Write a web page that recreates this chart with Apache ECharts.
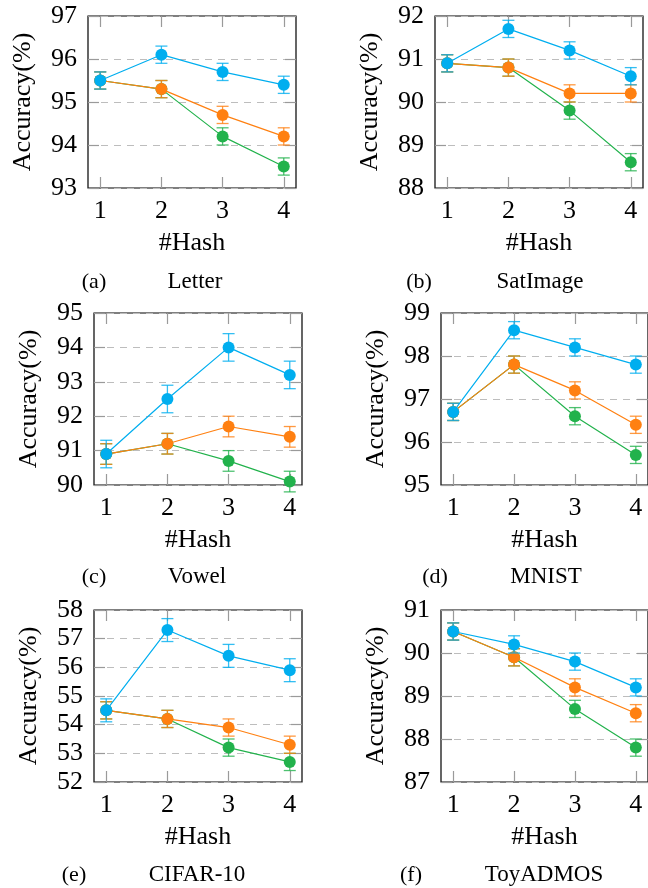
<!DOCTYPE html>
<html>
<head>
<meta charset="utf-8">
<script src="https://cdn.jsdelivr.net/npm/echarts@6/dist/echarts.min.js"></script>
<style>
  html, body { margin: 0; padding: 0; background: #fff; }
  #chart { width: 648px; height: 888px; }
</style>
</head>
<body>
<div id="chart"></div>
<script>
// 数据
const hashCounts = [1, 2, 3, 4];
const panelNames = ["Letter", "SatImage", "Vowel", "MNIST", "CIFAR-10", "ToyADMOS"];
const panelTags = ["(a)", "(b)", "(c)", "(d)", "(e)", "(f)"];
const yMins = [93, 88, 90, 95, 52, 87];
const yMaxs = [97, 92, 95, 99, 58, 91];

const blueAcc = [
    [95.5, 96.1, 95.7, 95.4],
    [90.9, 91.7, 91.2, 90.6],
    [90.9, 92.5, 94.0, 93.2],
    [96.7, 98.6, 98.2, 97.8],
    [54.5, 57.3, 56.4, 55.9],
    [90.5, 90.2, 89.8, 89.2]
];
const orangeAcc = [
    [95.5, 95.3, 94.7, 94.2],
    [90.9, 90.8, 90.2, 90.2],
    [90.9, 91.2, 91.7, 91.4],
    [96.7, 97.8, 97.2, 96.4],
    [54.5, 54.2, 53.9, 53.3],
    [90.5, 89.9, 89.2, 88.6]
];
const greenAcc = [
    [95.5, 95.3, 94.2, 93.5],
    [90.9, 90.8, 89.8, 88.6],
    [90.9, 91.2, 90.7, 90.1],
    [96.7, 97.8, 96.6, 95.7],
    [54.5, 54.2, 53.2, 52.7],
    [90.5, 89.9, 88.7, 87.8]
];
const blueErr = [
    [0.2, 0.2, 0.2, 0.2],
    [0.2, 0.2, 0.2, 0.2],
    [0.4, 0.4, 0.4, 0.4],
    [0.2, 0.2, 0.2, 0.2],
    [0.4, 0.4, 0.4, 0.4],
    [0.2, 0.2, 0.2, 0.2]
];
const orangeErr = [
    [0.2, 0.2, 0.2, 0.2],
    [0.2, 0.2, 0.2, 0.2],
    [0.3, 0.3, 0.3, 0.3],
    [0.2, 0.2, 0.2, 0.2],
    [0.3, 0.3, 0.3, 0.3],
    [0.2, 0.2, 0.2, 0.2]
];
const greenErr = [
    [0.2, 0.2, 0.2, 0.2],
    [0.2, 0.2, 0.2, 0.2],
    [0.3, 0.3, 0.3, 0.3],
    [0.2, 0.2, 0.2, 0.2],
    [0.3, 0.3, 0.3, 0.3],
    [0.2, 0.2, 0.2, 0.2]
];

// 布局
const gridPos = [
    { left: 88, top: 16 },
    { left: 435, top: 16 },
    { left: 94, top: 313 },
    { left: 441, top: 313 },
    { left: 94, top: 610 },
    { left: 441, top: 610 }
];
const plotW = 208, plotH = 172;
const captionPos = [
    { tagX: 94, nameX: 195, y: 282 },
    { tagX: 419, nameX: 540, y: 282 },
    { tagX: 94, nameX: 197, y: 577 },
    { tagX: 435, nameX: 546, y: 577 },
    { tagX: 74, nameX: 197, y: 875 },
    { tagX: 411, nameX: 544, y: 875 }
];

const SERIF = "Liberation Serif";
const BLUE = "#00AEEF", ORANGE = "#FF8011", GREEN = "#22B24C";
const TICK = "#9a9a9a";

const grids = [], xAxes = [], yAxes = [], series = [], graphics = [];

// 误差棒
function errorBars(gi, values, errs, color, z) {
    return {
        type: "custom",
        xAxisIndex: gi * 2,
        yAxisIndex: gi * 2,
        z: z,
        silent: true,
        data: values.map((v, i) => [hashCounts[i], v - errs[i], v + errs[i]]),
        encode: { x: 0, y: [1, 2] },
        renderItem: (params, api) => {
            const x = api.value(0);
            const lo = api.coord([x, api.value(1)]);
            const hi = api.coord([x, api.value(2)]);
            const hw = 6;
            const style = { stroke: color, lineWidth: 1.3, opacity: 0.8 };
            return {
                type: "group",
                children: [
                    { type: "line", shape: { x1: lo[0], y1: lo[1], x2: hi[0], y2: hi[1] }, style },
                    { type: "line", shape: { x1: lo[0] - hw, y1: lo[1], x2: lo[0] + hw, y2: lo[1] }, style },
                    { type: "line", shape: { x1: hi[0] - hw, y1: hi[1], x2: hi[0] + hw, y2: hi[1] }, style }
                ]
            };
        }
    };
}

function lineSeries(gi, values, color, z) {
    return {
        type: "line",
        xAxisIndex: gi * 2,
        yAxisIndex: gi * 2,
        z: z,
        data: values.map((v, i) => [hashCounts[i], v]),
        symbol: "circle",
        symbolSize: 12,
        showSymbol: true,
        itemStyle: { color: color },
        lineStyle: { color: color, width: 1.2 },
        animation: false
    };
}

panelNames.forEach((name, gi) => {
    grids.push({
        left: gridPos[gi].left, top: gridPos[gi].top, width: plotW, height: plotH,
        show: true, borderColor: "#000", borderWidth: 1.2, backgroundColor: "transparent"
    });
    const xBase = { type: "value", gridIndex: gi, min: 0.8, max: 4.2 };
    xAxes.push(Object.assign({}, xBase, {
        position: "bottom",
        name: "#Hash", nameLocation: "middle", nameGap: 42,
        nameTextStyle: { fontFamily: SERIF, fontSize: 26, color: "#000" },
        axisLine: { show: false },
        axisTick: { show: true, inside: true, length: 11, customValues: hashCounts, lineStyle: { color: TICK, width: 1.2 } },
        axisLabel: { show: true, customValues: hashCounts, margin: 10, fontFamily: SERIF, fontSize: 26, color: "#000" },
        splitLine: { show: false }
    }));
    xAxes.push(Object.assign({}, xBase, {
        position: "top",
        axisLine: { show: false },
        axisTick: { show: true, inside: true, length: 11, customValues: hashCounts, lineStyle: { color: TICK, width: 1.2 } },
        axisLabel: { show: false },
        splitLine: { show: false }
    }));
    const yBase = { type: "value", gridIndex: gi, min: yMins[gi], max: yMaxs[gi], interval: 1 };
    yAxes.push(Object.assign({}, yBase, {
        position: "left",
        name: "Accuracy(%)", nameLocation: "middle", nameGap: 52, nameRotate: 90,
        nameTextStyle: { fontFamily: SERIF, fontSize: 26, color: "#000" },
        axisLine: { show: false },
        axisTick: { show: true, inside: true, length: 11, lineStyle: { color: TICK, width: 1.2 } },
        axisLabel: { show: true, margin: 11, fontFamily: SERIF, fontSize: 26, color: "#000" },
        splitLine: { show: true, lineStyle: { color: "#bdbdbd", width: 1.2, type: [7, 6] } }
    }));
    yAxes.push(Object.assign({}, yBase, {
        position: "right",
        axisLine: { show: false },
        axisTick: { show: true, inside: true, length: 11, lineStyle: { color: TICK, width: 1.2 } },
        axisLabel: { show: false },
        splitLine: { show: false }
    }));

    series.push(errorBars(gi, greenAcc[gi], greenErr[gi], GREEN, 3));
    series.push(lineSeries(gi, greenAcc[gi], GREEN, 3));
    series.push(errorBars(gi, orangeAcc[gi], orangeErr[gi], ORANGE, 4));
    series.push(lineSeries(gi, orangeAcc[gi], ORANGE, 4));
    series.push(errorBars(gi, blueAcc[gi], blueErr[gi], BLUE, 5));
    series.push(lineSeries(gi, blueAcc[gi], BLUE, 5));

    // 子图标题
    const cp = captionPos[gi];
    graphics.push({
        type: "text", x: cp.tagX, y: cp.y,
        style: { text: panelTags[gi], fontFamily: SERIF, fontSize: 22, fill: "#000", align: "center", verticalAlign: "middle" }
    });
    graphics.push({
        type: "text", x: cp.nameX, y: cp.y,
        style: { text: name, fontFamily: SERIF, fontSize: 23, fill: "#000", align: "center", verticalAlign: "middle" }
    });
});

const chart = echarts.init(document.getElementById("chart"), null, { renderer: "canvas" });
chart.setOption({
    backgroundColor: "#fff",
    animation: false,
    grid: grids,
    xAxis: xAxes,
    yAxis: yAxes,
    series: series,
    graphic: graphics
});
window.addEventListener("resize", () => chart.resize());
</script>
</body>
</html>
